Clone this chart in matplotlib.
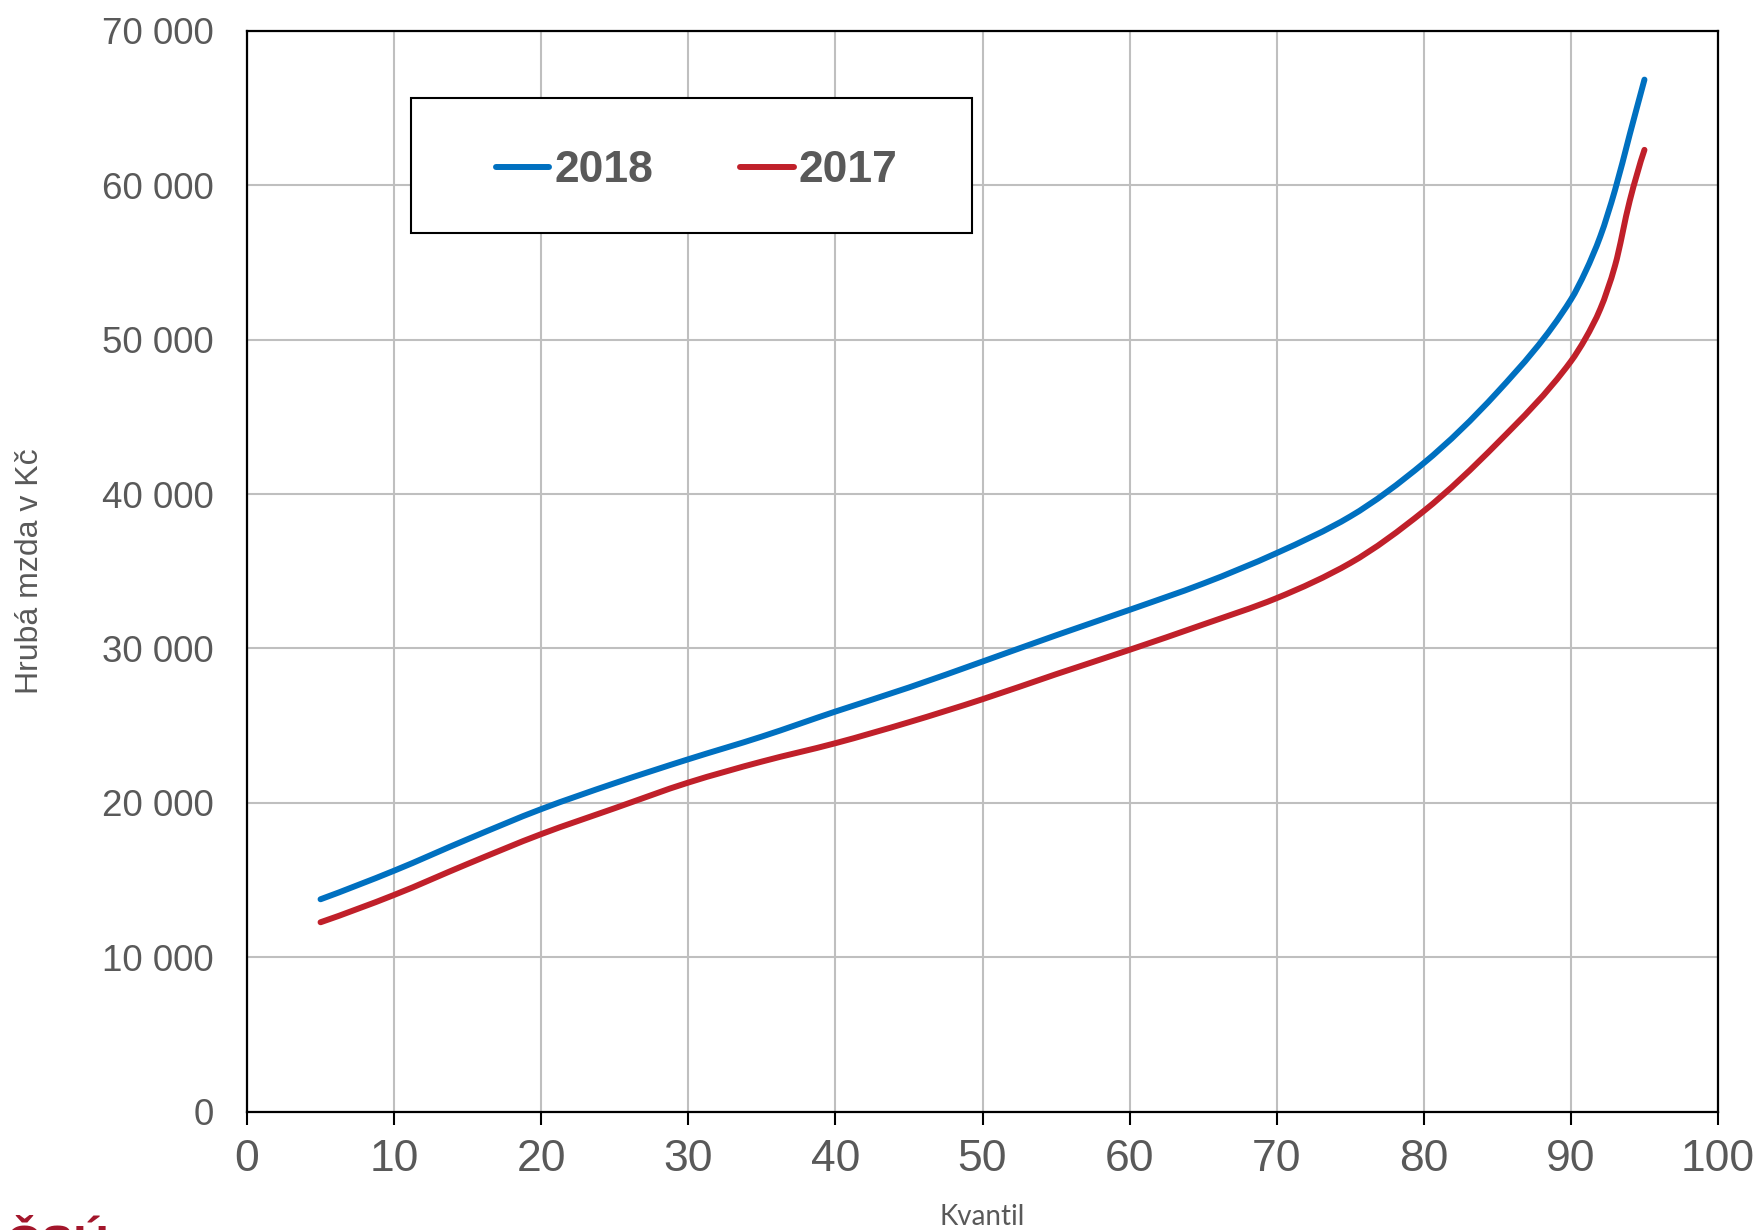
import matplotlib
matplotlib.use("Agg")
import matplotlib.pyplot as plt
from matplotlib.path import Path
from matplotlib.patches import PathPatch, Rectangle
from matplotlib.lines import Line2D
import numpy as np

# ---- data ----
kvantil = [5, 10, 15, 20, 25, 30, 35, 40, 45, 50, 55, 60, 65, 70, 75, 80, 85, 90,
           91, 92, 93, 94, 95]
mzda_2018 = [13750, 15600, 17640, 19590, 21270, 22820, 24290, 25910, 27470, 29150,
             30850, 32500, 34200, 36180, 38550, 42010, 46600, 52600,
             54430, 56700, 59700, 63300, 66850]
mzda_2017 = [12260, 14030, 16040, 17970, 19650, 21310, 22670, 23860, 25220, 26710,
             28330, 29910, 31550, 33260, 35530, 38900, 43300, 48600,
             50100, 52000, 54800, 59000, 62300]
series_labels = ["2018", "2017"]
series_colors = ["#0070C0", "#C0202A"]
x_ticks = [0, 10, 20, 30, 40, 50, 60, 70, 80, 90, 100]
y_ticks = [0, 10000, 20000, 30000, 40000, 50000, 60000, 70000]
y_tick_labels = ["0", "10 000", "20 000", "30 000", "40 000", "50 000", "60 000", "70 000"]
x_label = "Kvantil"
y_label = "Hrubá mzda v Kč"
logo_text = "ČSÚ"

W, H = 1762, 1230
fig = plt.figure(figsize=(W / 100, H / 100), dpi=100)
L, R, T, B = 247, 1718, 31, 1111.5
ax = fig.add_axes([L / W, 1 - B / H, (R - L) / W, (B - T) / H])
ax.set_xlim(0, 100)
ax.set_ylim(0, 70000)


def _pchip_slopes(x, y):
    h = np.diff(x)
    d = np.diff(y) / h
    n = len(x)
    m = np.zeros(n)
    for k in range(1, n - 1):
        if d[k - 1] * d[k] <= 0:
            m[k] = 0.0
        else:
            w1 = 2 * h[k] + h[k - 1]
            w2 = h[k] + 2 * h[k - 1]
            m[k] = (w1 + w2) / (w1 / d[k - 1] + w2 / d[k])

    def end(h0, h1, d0, d1):
        s = ((2 * h0 + h1) * d0 - h0 * d1) / (h0 + h1)
        if np.sign(s) != np.sign(d0):
            return 0.0
        if np.sign(d0) != np.sign(d1) and abs(s) > 3 * abs(d0):
            return 3 * d0
        return s

    m[0] = end(h[0], h[1], d[0], d[1])
    m[-1] = end(h[-1], h[-2], d[-1], d[-2])
    return m


def smooth_path(xs, ys):
    """Smoothed line (like a spreadsheet's smoothed line) as cubic Bezier segments."""
    x = np.asarray(xs, float)
    y = np.asarray(ys, float)
    m = _pchip_slopes(x, y)
    verts = [(x[0], y[0])]
    codes = [Path.MOVETO]
    for k in range(len(x) - 1):
        h = x[k + 1] - x[k]
        verts += [(x[k] + h / 3, y[k] + m[k] * h / 3),
                  (x[k + 1] - h / 3, y[k + 1] - m[k + 1] * h / 3),
                  (x[k + 1], y[k + 1])]
        codes += [Path.CURVE4] * 3
    return Path(verts, codes)


for ys, col in zip([mzda_2018, mzda_2017], series_colors):
    patch = PathPatch(smooth_path(kvantil, ys), facecolor="none", edgecolor=col,
                      lw=4.3, capstyle="round", joinstyle="round", zorder=3)
    ax.add_patch(patch)

ax.set_xticks(x_ticks)
ax.set_yticks(y_ticks)
ax.set_yticklabels(y_tick_labels)
ax.grid(True, color="#BFBFBF", lw=1.5)
ax.set_axisbelow(True)
for s in ax.spines.values():
    s.set_color("black")
    s.set_linewidth(1.6)
    s.set_zorder(4)

tick_font = "Liberation Sans"
ax.tick_params(axis="x", direction="out", length=9.5, width=1.5, color="black",
               pad=10, labelsize=32, labelcolor="#595959")
ax.tick_params(axis="y", length=0, pad=24, labelsize=26.5, labelcolor="#595959")
for lab in ax.get_xticklabels() + ax.get_yticklabels():
    lab.set_fontfamily(tick_font)

# axis titles
fig.text(982 / W, 1 - 1225 / H, x_label, ha="center", va="baseline",
         fontsize=20, color="#595959", family="Lato")
fig.text(30 / W, 1 - 571 / H, y_label, ha="center", va="center", rotation=90,
         fontsize=23, color="#595959", family="Liberation Sans")

# legend box
lx0, ly0, lx1, ly1 = 411, 98, 972, 233
fig.patches.append(Rectangle((lx0 / W, 1 - ly1 / H), (lx1 - lx0) / W, (ly1 - ly0) / H,
                             transform=fig.transFigure, facecolor="white",
                             edgecolor="black", lw=1.5, zorder=5))
handles = [Line2D([], [], color=c, lw=4.3, solid_capstyle="round") for c in series_colors]
leg = fig.legend(handles, series_labels, loc="center", bbox_to_anchor=(697 / W, 1 - 171 / H),
                 ncol=2, frameon=False, handlelength=1.2, handletextpad=0.12,
                 columnspacing=1.95, labelcolor="#595959",
                 prop={"family": "Liberation Sans", "weight": "bold", "size": 32})
leg.set_zorder(6)

# logo (cut off at the bottom edge, as in the reference)
fig.text(6 / W, 1 - 1259 / H, logo_text, ha="left", va="baseline", fontsize=35,
         fontweight="bold", color="#A3162B", family="Liberation Sans")

fig.savefig("out.png", dpi=100, facecolor="white")
